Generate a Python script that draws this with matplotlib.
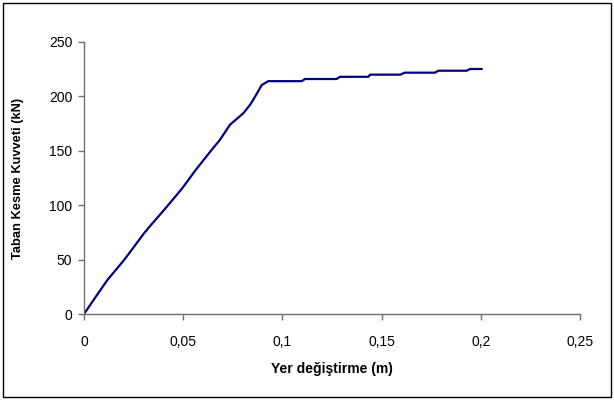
import matplotlib
matplotlib.use("Agg")
import matplotlib.pyplot as plt
from matplotlib.patches import Rectangle

plt.rcParams['font.family'] = ['Liberation Sans', 'DejaVu Sans']

# Displacement (m) and base shear (kN)
displacement = [0, 0.0060, 0.0118, 0.0202, 0.0302, 0.0336, 0.0403, 0.0495, 0.0563,
                0.0644, 0.0685, 0.0736, 0.0803, 0.0840, 0.0862, 0.0896, 0.0929,
                0.1097, 0.1114, 0.1273, 0.1290, 0.1433, 0.1442, 0.1596, 0.1615,
                0.1769, 0.1786, 0.1929, 0.1946, 0.2004]
base_shear = [0, 16, 31.3, 49.6, 74, 81.5, 95.5, 115.5, 132.4,
              151, 160, 174, 184.5, 193, 199.7, 210.5, 214,
              214, 216, 216, 218, 218, 220, 220, 221.8,
              221.8, 223.6, 223.6, 225.2, 225.2]

x_ticks = [0, 0.05, 0.1, 0.15, 0.2, 0.25]
x_tick_labels = ['0', '0,05', '0,1', '0,15', '0,2', '0,25']
y_ticks = [0, 50, 100, 150, 200, 250]

W, H = 614, 401
fig = plt.figure(figsize=(W / 100, H / 100), dpi=100)
ax = fig.add_axes([84 / W, 1 - 314 / H, 496 / W, 272 / H])

ax.plot(displacement, base_shear, color='#000080', lw=1.6, solid_joinstyle='round')

ax.set_xlim(0, 0.25)
ax.set_ylim(0, 250)
ax.set_xticks(x_ticks)
ax.set_xticklabels(x_tick_labels)
ax.set_yticks(y_ticks)

for side in ('top', 'right'):
    ax.spines[side].set_visible(False)
for side in ('left', 'bottom'):
    ax.spines[side].set_color('#707070')
    ax.spines[side].set_linewidth(1.0)

ax.tick_params(axis='both', direction='out', length=4, width=1.0,
               color='#707070', labelsize=10, labelcolor='black')
ax.tick_params(axis='x', pad=11)
ax.tick_params(axis='y', pad=4.5)

ax.set_xlabel('Yer değiştirme (m)', fontsize=10, fontweight='bold')
ax.set_ylabel('Taban Kesme Kuvveti (kN)', fontsize=9.3, fontweight='bold')
ax.xaxis.set_label_coords(0.5, (314 - 362) / 272)
ax.yaxis.set_label_coords((24 - 84) / 496, 0.5)

# outer chart frame
fig.patches.append(Rectangle((3 / W, 4 / H), 608 / W, 394 / H, transform=fig.transFigure,
                             fill=False, edgecolor='black', lw=1.0))

fig.savefig('out.png', dpi=100)
